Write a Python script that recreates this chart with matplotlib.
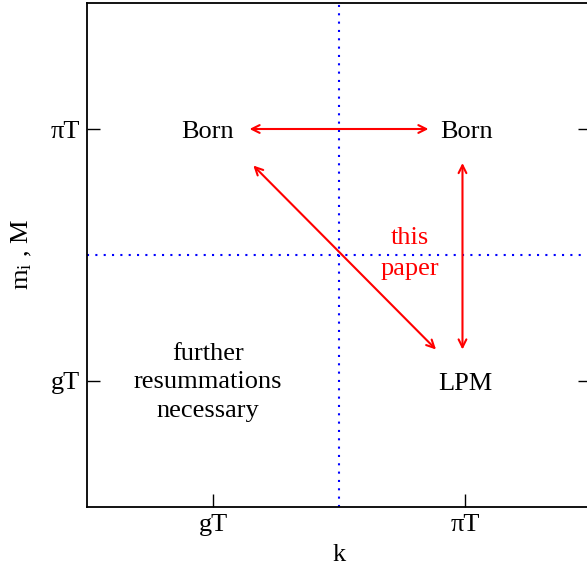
import matplotlib
matplotlib.use("Agg")
import matplotlib.pyplot as plt

plt.rcParams['font.family'] = ['Liberation Serif', 'DejaVu Serif']
plt.rcParams['mathtext.fontset'] = 'custom'
plt.rcParams['mathtext.rm'] = 'Liberation Serif'
plt.rcParams['mathtext.it'] = 'Liberation Serif'

# scale labels
x_ticks = [1, 3]
x_ticklabels = ['gT', 'πT']
y_ticks = [1, 3]
y_ticklabels = ['gT', 'πT']
boundary = 2.0

# regime labels: (x, y, text)
regimes = [(0.96, 2.98, 'Born'), (3.01, 2.98, 'Born'), (3.0, 0.98, 'LPM'),
           (0.96, 0.99, 'further\nresummations\nnecessary')]
# double-headed arrows: (x0, y0, x1, y1)
arrows = [(1.29, 3.0, 2.71, 3.0),
          (2.98, 2.73, 2.98, 1.25),
          (1.32, 2.71, 2.77, 1.25)]
paper_label = (2.56, 2.01, 'this\npaper')

fig = plt.figure(figsize=(5.87, 5.71), dpi=100)
ax = fig.add_axes([87/587, 64/571, 504/587, 504/571])
ax.set_xlim(0, 4)
ax.set_ylim(0, 4)

ax.axvline(boundary, color='blue', linestyle=(0, (1, 3)), lw=1.5)
ax.axhline(boundary, color='blue', linestyle=(0, (1, 3)), lw=1.5)

for x, y, t in regimes:
    ax.text(x, y, t, ha='center', va='center', fontsize=19, linespacing=1.38)

for x0, y0, x1, y1 in arrows:
    ax.annotate('', xy=(x1, y1), xytext=(x0, y0),
                arrowprops=dict(arrowstyle='<->', color='red', lw=1.5,
                                shrinkA=0, shrinkB=0, mutation_scale=14))

ax.text(paper_label[0], paper_label[1], paper_label[2], color='red',
        ha='center', va='center', fontsize=19, linespacing=1.5)

ax.set_xticks(x_ticks)
ax.set_xticklabels(x_ticklabels, fontsize=19)
ax.set_yticks(y_ticks)
ax.set_yticklabels(y_ticklabels, fontsize=19)
ax.tick_params(direction='in', length=9.5, width=1, right=True, top=False, pad=5)
ax.set_xlabel('k', fontsize=19, labelpad=6)
ax.set_ylabel(r'm$_{\rm i}$ , M', fontsize=19, labelpad=12)
for s in ax.spines.values():
    s.set_linewidth(1.3)

fig.savefig('out.png', dpi=100)
